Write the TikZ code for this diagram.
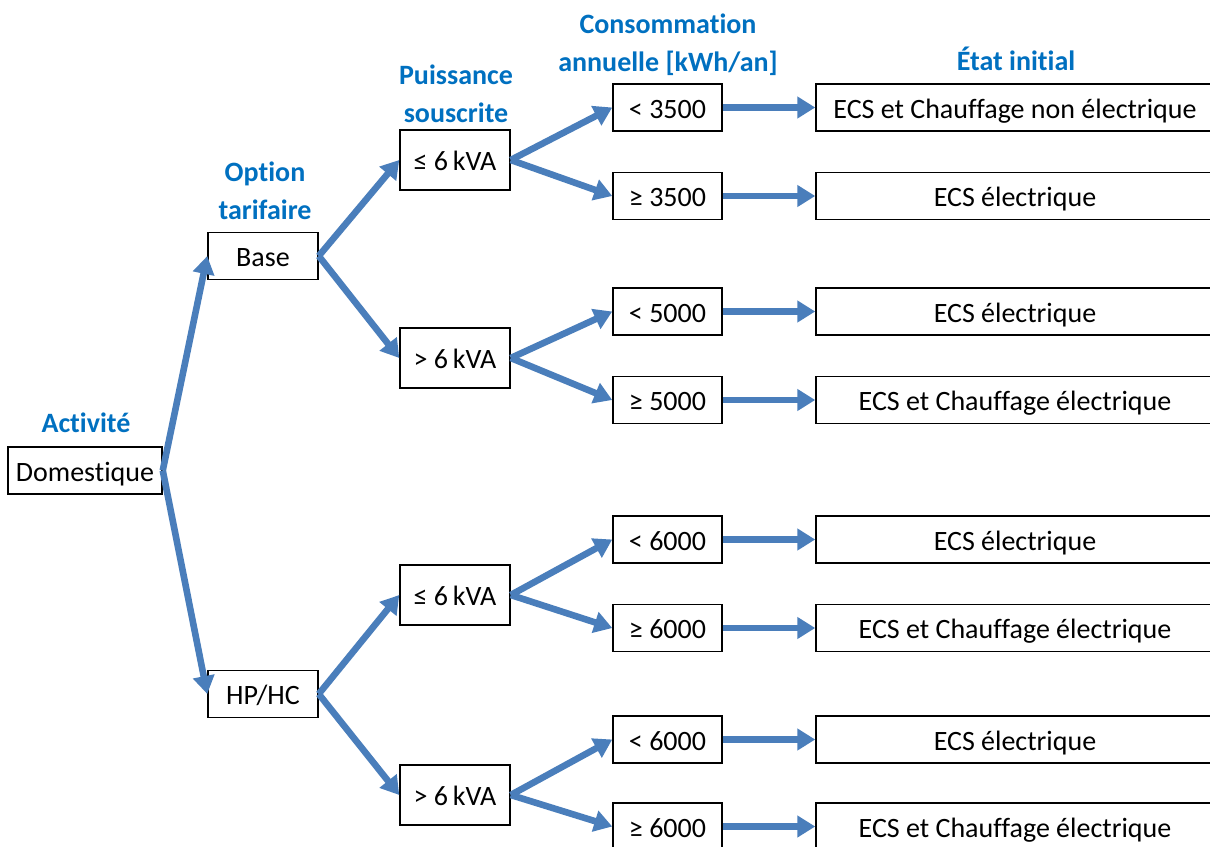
\documentclass[tikz,border=0pt]{standalone}
\usepackage{fontspec}
\setmainfont{Carlito}[Ligatures=NoCommon]
\usetikzlibrary{arrows.meta}

\definecolor{bleufleche}{HTML}{4A7EBB}
\definecolor{bleutitre}{HTML}{0070C0}

\begin{document}
\begin{tikzpicture}[x=0.5pt,y=-0.5pt,
  font=\fontsize{14}{17}\selectfont,
  boite/.style={draw, line width=0.75pt, inner sep=0pt, minimum height=23.5pt,
    text height=12pt, text depth=1.5pt},
  puiss/.style={boite, minimum width=55pt, minimum height=30pt},
  conso/.style={boite, minimum width=54.5pt},
  etat/.style={boite, minimum width=199pt},
  titre/.style={text=bleutitre, font=\bfseries\fontsize{14}{19}\selectfont,
    align=center, inner sep=0pt},
  fleche/.style={draw=bleufleche, line width=3.3pt,
    -{Triangle[length=9pt,width=10.5pt]}}]

\useasboundingbox (0,0) rectangle (1210,846);

% Titres des colonnes
\node[titre] (tact) at (86,423) {Activité};
\node[titre] (topt) at (265,191) {Option\\tarifaire};
\node[titre] (tpui) at (456,94) {Puissance\\souscrite};
\node[titre] (tcon) at (668,45) {Consommation\\annuelle [kWh/an]};
\node[titre] (teta) at (1016,59) {État initial};

% Activité et option tarifaire
\node[boite, minimum width=77pt] (dom) at (85,470.5) {Domestique};
\node[boite, minimum width=55pt] (base) at (263,256) {Base};
\node[boite, minimum width=55pt] (hphc) at (263,694) {HP/HC};

% Puissance souscrite
\node[puiss] (bp1) at (455,160) {≤ 6\,kVA};
\node[puiss] (bp2) at (455,358) {> 6\,kVA};
\node[puiss] (hp1) at (455,595) {≤ 6\,kVA};
\node[puiss] (hp2) at (455,795) {> 6\,kVA};

% Consommation annuelle
\node[conso] (c1) at (667.5,107.5) {< 3500};
\node[conso] (c2) at (667.5,196) {≥ 3500};
\node[conso] (c3) at (667.5,311.5) {< 5000};
\node[conso] (c4) at (667.5,400) {≥ 5000};
\node[conso] (c5) at (667.5,539.5) {< 6000};
\node[conso] (c6) at (667.5,628) {≥ 6000};
\node[conso] (c7) at (667.5,739.5) {< 6000};
\node[conso] (c8) at (667.5,826.5) {≥ 6000};

% État initial
\node[etat] (e1) at (1015,107.5) {ECS et Chauffage non électrique};
\node[etat] (e2) at (1015,196) {ECS électrique};
\node[etat] (e3) at (1015,311.5) {ECS électrique};
\node[etat] (e4) at (1015,400) {ECS et Chauffage électrique};
\node[etat] (e5) at (1015,539.5) {ECS électrique};
\node[etat] (e6) at (1015,628) {ECS et Chauffage électrique};
\node[etat] (e7) at (1015,739.5) {ECS électrique};
\node[etat] (e8) at (1015,826.5) {ECS et Chauffage électrique};

% Flèches de l'arbre
\draw[fleche] (dom.east) -- (base.west);
\draw[fleche] (dom.east) -- (hphc.west);

\draw[fleche] (base.east) -- (bp1.west);
\draw[fleche] (base.east) -- (bp2.west);
\draw[fleche] (hphc.east) -- (hp1.west);
\draw[fleche] (hphc.east) -- (hp2.west);

\draw[fleche] (bp1.east) -- (c1.west);
\draw[fleche] (bp1.east) -- (c2.west);
\draw[fleche] (bp2.east) -- (c3.west);
\draw[fleche] (bp2.east) -- (c4.west);
\draw[fleche] (hp1.east) -- (c5.west);
\draw[fleche] (hp1.east) -- (c6.west);
\draw[fleche] (hp2.east) -- (c7.west);
\draw[fleche] (hp2.east) -- (c8.west);

% Flèches horizontales
\draw[fleche] (c1.east) -- (e1.west);
\draw[fleche] (c2.east) -- (e2.west);
\draw[fleche] (c3.east) -- (e3.west);
\draw[fleche] (c4.east) -- (e4.west);
\draw[fleche] (c5.east) -- (e5.west);
\draw[fleche] (c6.east) -- (e6.west);
\draw[fleche] (c7.east) -- (e7.west);
\draw[fleche] (c8.east) -- (e8.west);

\end{tikzpicture}
\end{document}
